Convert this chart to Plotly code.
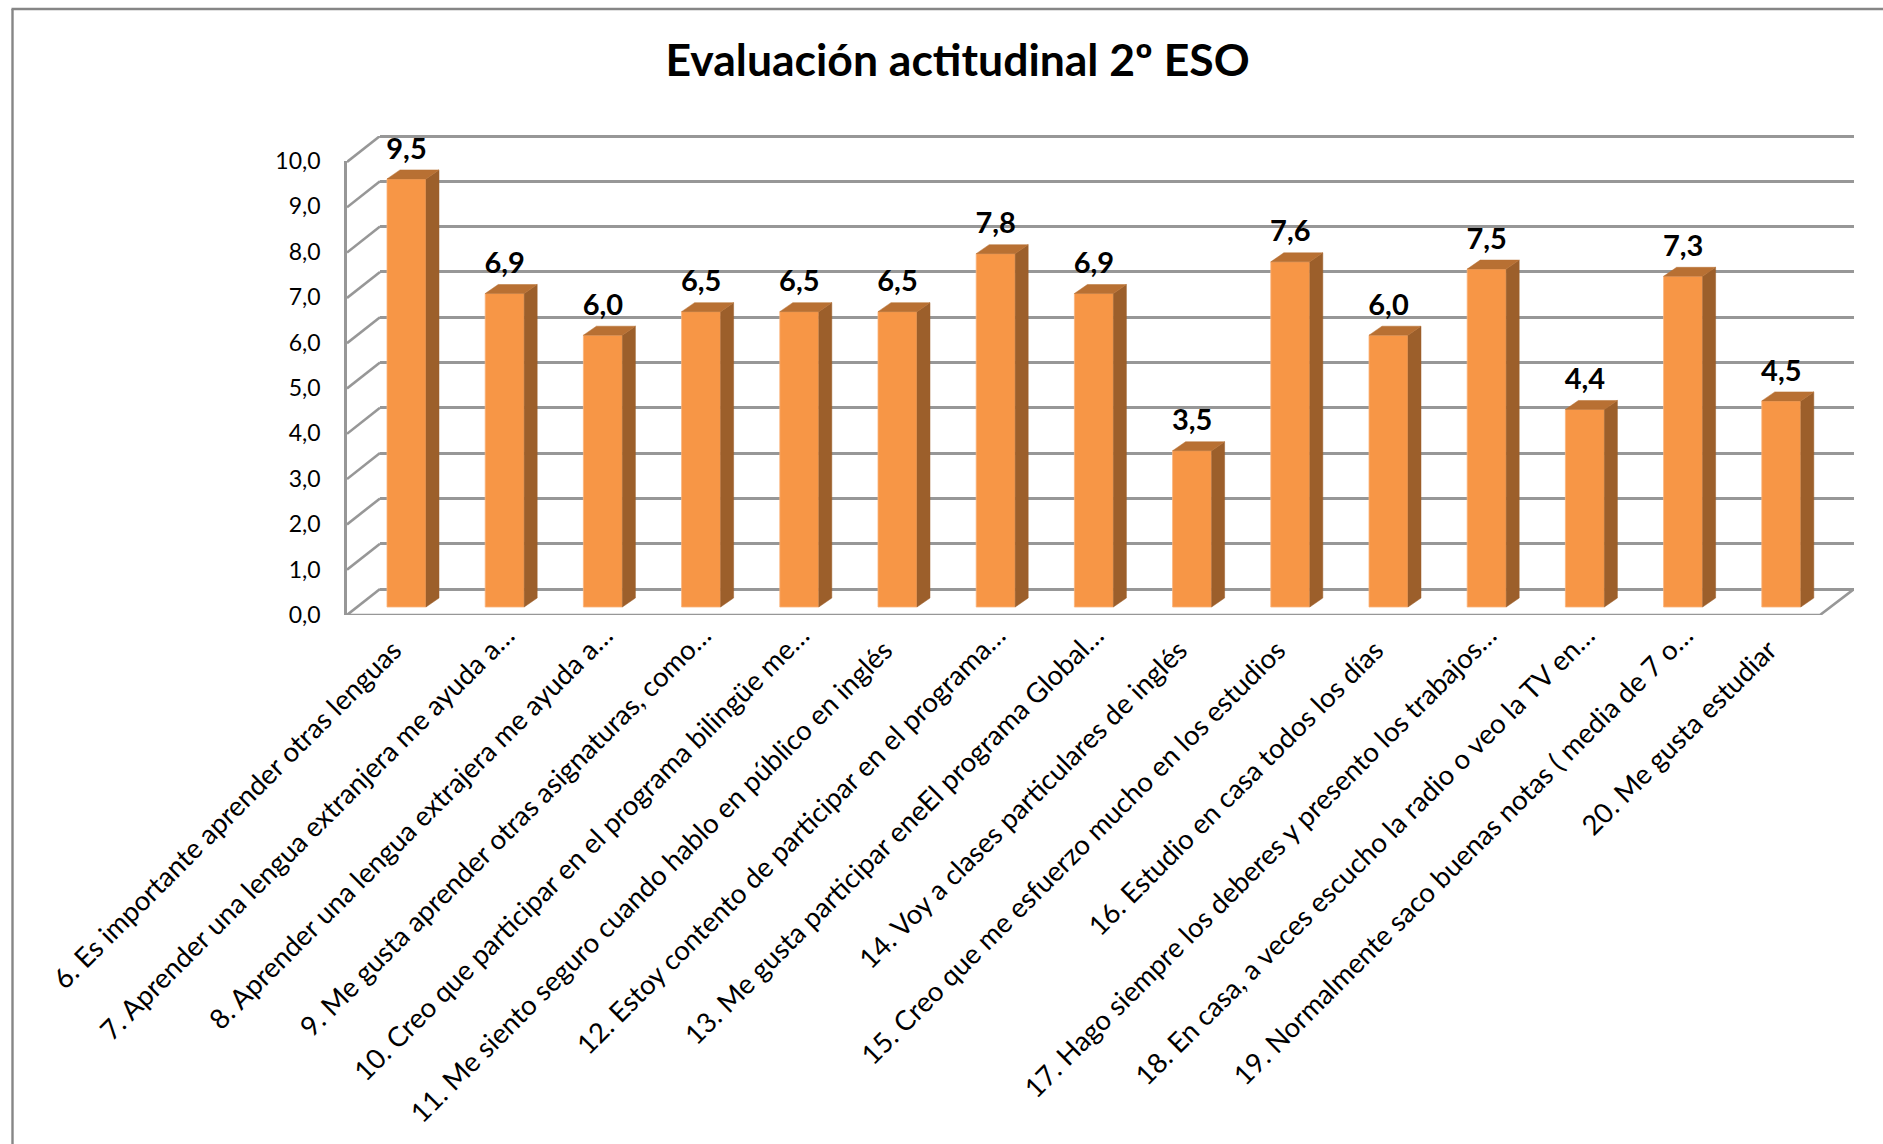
import plotly.graph_objects as go

W, H = 1883, 1144
categories = [
    "6. Es importante aprender otras lenguas",
    "7. Aprender una lengua extranjera me ayuda a…",
    "8. Aprender una lengua extrajera me ayuda a…",
    "9. Me gusta aprender otras asignaturas, como…",
    "10. Creo que participar en el programa bilingüe me…",
    "11. Me siento seguro cuando hablo en público en inglés",
    "12. Estoy contento de participar en el programa…",
    "13. Me gusta participar eneEl programa Global…",
    "14. Voy a clases particulares de inglés",
    "15. Creo que me esfuerzo mucho en los estudios",
    "16. Estudio en casa todos los días",
    "17. Hago siempre los deberes y presento los trabajos…",
    "18. En casa, a veces escucho la radio o veo la TV en…",
    "19. Normalmente saco buenas notas ( media de 7 o…",
    "20. Me gusta estudiar",
]
values = [9.45, 6.92, 6.0, 6.52, 6.52, 6.52, 7.8, 6.92, 3.45, 7.62, 6.0, 7.46, 4.36, 7.3, 4.55]
value_labels = ["9,5", "6,9", "6,0", "6,5", "6,5", "6,5", "7,8", "6,9", "3,5", "7,6", "6,0", "7,5", "4,4", "7,3", "4,5"]
title_text = "Evaluación actitudinal 2º ESO"
FONT = "Lato"

# pixel geometry of the pseudo-3D box
FX0, FX1, BX0, BX1 = 347, 1820, 380, 1854      # front/back left-right
FY0, FY10, BY0, BY10 = 615, 161, 589, 136      # front/back 0 and 10
BAR_Y0 = 607
STEP = 98.2
C0 = 406.5
UNIT = 45.3
BAR_W = 39 / STEP
DX, DY = 13 / STEP, 9 / UNIT
PAD = 3  # px of slack so the first and last gridlines are kept

def fx(p): return p / W
def fy(p): return 1 - p / H

x_lo = (FX0 - C0) / STEP
x_hi = (BX1 - C0) / STEP
y3_lo = (BAR_Y0 - FY0) / UNIT
y3_hi = (BAR_Y0 - BY10) / UNIT
front_y = y3_lo
back_y = (BAR_Y0 - BY0) / UNIT
back_x = (BX0 - C0) / STEP
front_right = (FX1 - C0) / STEP

xi = list(range(len(values)))
LINE = "#979797"
ticks = list(range(0, 11))
LABEL_SHIFT = 2 / STEP
# labels that are not truncated sit a little further down their own slant
tick_text = [c if c.endswith("…") else c + "\u00a0" * 3 for c in categories]

fig = go.Figure()

# back wall gridlines carrier (subplot x/y, drawn first)
fig.add_trace(go.Scatter(x=[0], y=[0], xaxis="x", yaxis="y", mode="markers",
                         marker=dict(opacity=0), hoverinfo="skip", showlegend=False))
# front value axis carrier (subplot x2/y2)
fig.add_trace(go.Scatter(x=[0], y=[0], xaxis="x2", yaxis="y2", mode="markers",
                         marker=dict(opacity=0), hoverinfo="skip", showlegend=False))

# left wall and floor edges
lx, ly = [], []
for k in ticks:
    lx += [x_lo, back_x, None]
    ly += [front_y + k, back_y + k, None]
lx += [x_lo, front_right, x_hi, None]
ly += [front_y, front_y, back_y, None]
fig.add_trace(go.Scatter(x=lx, y=ly, xaxis="x2", yaxis="y3", mode="lines",
                         line=dict(color=LINE, width=2.6), hoverinfo="skip", showlegend=False))

# front faces
fig.add_trace(go.Bar(x=xi, y=values, xaxis="x2", yaxis="y3", width=BAR_W,
                     marker=dict(color="#F79646", line=dict(color="#FAB27A", width=0.8)),
                     showlegend=False))

# side and top faces
sx, sy, tx, ty = [], [], [], []
for i, v in zip(xi, values):
    r = i + BAR_W / 2
    l = i - BAR_W / 2
    sx += [r, r + DX, r + DX, r, r, None]
    sy += [0, DY, v + DY, v, 0, None]
    tx += [l, l + DX, r + DX, r, l, None]
    ty += [v, v + DY, v + DY, v, v, None]
fig.add_trace(go.Scatter(x=sx, y=sy, xaxis="x2", yaxis="y3", mode="lines", fill="toself",
                         fillcolor="#9C5F2B", line=dict(color="#9C5F2B", width=0.5),
                         hoverinfo="skip", showlegend=False))
fig.add_trace(go.Scatter(x=tx, y=ty, xaxis="x2", yaxis="y3", mode="lines", fill="toself",
                         fillcolor="#B87033", line=dict(color="#B87033", width=0.5),
                         hoverinfo="skip", showlegend=False))

# value labels
LIFT = 0.29
fig.add_trace(go.Scatter(x=xi, y=[v + LIFT for v in values], xaxis="x2", yaxis="y3", mode="text",
                         text=value_labels, textposition="top center",
                         textfont=dict(family=FONT, size=29, color="#000000", weight="bold"),
                         hoverinfo="skip", showlegend=False))

fig.update_layout(
    width=W, height=H, margin=dict(l=0, r=0, t=0, b=0, autoexpand=False),
    paper_bgcolor="white", plot_bgcolor="rgba(0,0,0,0)",
    separators=",.", showlegend=False,
    font=dict(family=FONT, color="#000000"),
    title=dict(text=f"<b>{title_text}</b>", x=(556 + 1040) / 2 * 1.2 / W, xanchor="center",
               y=fy(60), yanchor="middle", font=dict(family=FONT, size=44.5, color="#000000")),
    # back wall
    xaxis=dict(domain=[fx(BX0), fx(BX1)], range=[0, 1], visible=False, anchor="y"),
    yaxis=dict(domain=[fy(BY0 + PAD), fy(BY10 - PAD)],
               range=[-PAD / UNIT, 10 + PAD / UNIT], tickmode="array", tickvals=ticks,
               showticklabels=False, ticks="", showgrid=True, gridcolor=LINE, gridwidth=2.8,
               zeroline=False, showline=False, anchor="x"),
    # front plane with category labels and value axis
    xaxis2=dict(domain=[fx(FX0), fx(BX1)], range=[x_lo, x_hi], tickmode="array",
                tickvals=[i + LABEL_SHIFT for i in xi],
                ticktext=tick_text, tickangle=-45, ticklabelstandoff=-2, showgrid=False,
                zeroline=False, showline=False, ticks="", anchor="y2",
                tickfont=dict(family=FONT, size=27.5, color="#000000")),
    yaxis2=dict(domain=[fy(FY0), fy(FY10)], range=[0, 10], tickmode="array", tickvals=ticks,
                tickformat=".1f", showgrid=False, zeroline=False, showline=True, linecolor=LINE,
                linewidth=2.6, ticks="", anchor="x2", ticklabelstandoff=19,
                tickfont=dict(family=FONT, size=23, color="#000000")),
    # bar plane
    yaxis3=dict(domain=[fy(FY0), fy(BY10)], range=[y3_lo, y3_hi], visible=False, anchor="x2"),
    shapes=[
        dict(type="line", xref="paper", yref="paper", x0=fx(12.5), x1=fx(12.5), y0=0, y1=fy(9),
             line=dict(color="#868686", width=2.4)),
        dict(type="line", xref="paper", yref="paper", x0=fx(11.5), x1=1, y0=fy(9), y1=fy(9),
             line=dict(color="#868686", width=2.4)),
    ],
)

fig.write_html("out.html", config=dict(displayModeBar=False),
               post_script="document.body.style.margin='0';document.body.style.overflow='hidden';")
